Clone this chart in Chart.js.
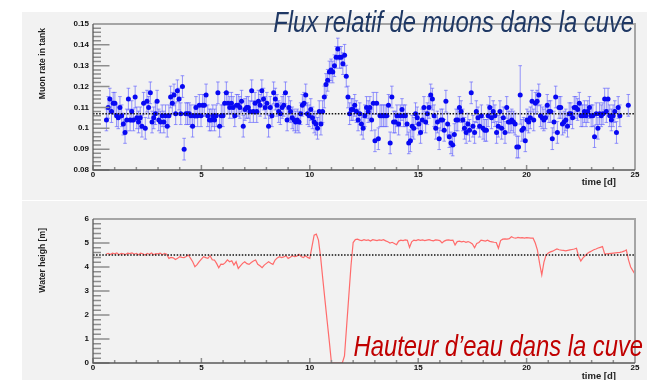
<!DOCTYPE html>
<html>
<head>
<meta charset="utf-8">
<script src="https://cdn.jsdelivr.net/npm/chart.js@4"></script>
<style>
  body { margin: 0; width: 647px; height: 380px; background: #fff; position: relative; overflow: hidden;
         font-family: 'Liberation Sans', Arial, sans-serif; }
  .pad { position: absolute; left: 22px; width: 625px; background: #f2f2f2; }
  .pad canvas { display: block; }
  #padTop { top: 12px; height: 188px; }
  #padBottom { top: 201px; height: 179px; }
  .ytitle { position: absolute; writing-mode: vertical-rl; transform: rotate(180deg); font-weight: bold;
            font-size: 8.6px; line-height: 9px; color: #222; white-space: nowrap; }
  .xtitle { position: absolute; font-weight: bold; font-size: 9.5px; line-height: 10px; color: #222; white-space: nowrap; }
  .caption { position: absolute; font-style: italic; font-size: 29px; line-height: 29px; white-space: nowrap;
             transform: scaleX(0.82); transform-origin: right center; }
</style>
</head>
<body>
<div class="pad" id="padTop"><canvas id="rateChart" width="625" height="188"></canvas></div>
<div class="pad" id="padBottom"><canvas id="waterChart" width="625" height="179"></canvas></div>
<div class="ytitle" style="left:37.5px; top:28px;">Muon rate in tank</div>
<div class="ytitle" style="left:37.5px; top:228px;">Water heigh [m]</div>
<div class="xtitle" style="right:31px; top:177px;">time [d]</div>
<div class="xtitle" style="right:31px; top:371px;">time [d]</div>
<div class="caption" style="right:13px; top:7.5px; color:#1f3864;">Flux relatif de muons dans la cuve</div>
<div class="caption" style="right:4px; top:331.5px; color:#c00000;">Hauteur d’eau dans la cuve</div>

<script>
// ---- time axis (days) ----
const timeTicks = [0, 5, 10, 15, 20, 25];
const timeMinorStep = 1;

// ---- muon rate, one value per time bin (null = empty bin) ----
const rateStart = 0.62;   // centre of first bin [d]
const rateBin = 0.0779;   // bin width [d]
const rateValues = [
    0.104, 0.110, 0.114, 0.108, 0.112, 0.112, 0.106, 0.105, 0.110, 0.106,
    0.102, 0.098, 0.104, 0.114, 0.104, 0.108, 0.104, 0.115, 0.105, 0.103,
    0.105, 0.101, 0.112, 0.100, 0.113, 0.110, 0.117, 0.103, 0.105, 0.107,
    0.113, 0.104, 0.103, 0.106, 0.103, 0.106, 0.101, 0.106, 0.115, 0.112,
    0.116, 0.107, 0.118, 0.114, 0.107, 0.120, 0.090, 0.107, 0.107, 0.107,
    0.106, 0.101, 0.106, 0.110, 0.106, 0.111, 0.106, 0.111, 0.111, 0.116,
    0.106, 0.104, 0.104, 0.106, 0.104, 0.106, 0.117, 0.101, 0.106, 0.106,
    0.112, 0.117, 0.112, 0.110,
    0.112, 0.110, 0.106, 0.111, 0.111, 0.110, 0.113, 0.101, 0.109, 0.110,
    0.110, 0.108, 0.118, 0.108, 0.112, 0.108, 0.113, 0.111, 0.118, 0.114,
    0.110, 0.112, 0.101, 0.110, 0.106, 0.117, 0.114, 0.111, 0.108, 0.107,
    0.110, 0.111, 0.117, 0.104, 0.110, 0.108, 0.105, 0.104, 0.103, 0.104,
    0.103, 0.107, 0.111, 0.112, 0.116, 0.107, 0.106, 0.109, 0.105, 0.103,
    0.102, 0.100, 0.108, 0.102, 0.108, 0.115, 0.121, 0.123, 0.127, 0.128,
    0.127, 0.130, 0.134, 0.138, 0.134, 0.134, 0.131, 0.135, 0.125, 0.115,
    0.107, 0.109, 0.109, 0.111, 0.108, 0.104, 0.107, 0.102, 0.100, 0.106,
    0.110, 0.108,
    0.110, 0.104, 0.112, 0.094, 0.112, 0.095, 0.106, 0.106, 0.106, 0.106,
    0.106, 0.111, 0.093, 0.115, 0.103, 0.103, 0.106, 0.102, 0.106, 0.109,
    0.106, 0.106, 0.102, 0.093, 0.094, 0.101, 0.100, 0.107, 0.105, 0.102,
    0.098, 0.104, 0.110, 0.103, 0.107, 0.110, 0.116, 0.114, 0.106, 0.100,
    0.103, 0.095, 0.104, 0.104, 0.099, 0.113, 0.102, 0.096, 0.093, 0.092,
    0.097, 0.104, 0.104, 0.110, 0.108, 0.104, 0.100, 0.098, 0.102, 0.099,
    0.117, 0.101, 0.098, 0.108, 0.105, 0.101, 0.106, 0.100, 0.099, 0.099,
    0.106, 0.110, 0.105, 0.108, 0.106, 0.098, 0.101, 0.108,
    0.100, 0.105, 0.098, 0.110, 0.103, 0.103, 0.104, 0.103, 0.102, 0.091,
    0.091, 0.116, 0.099, 0.100, 0.094, 0.104, 0.103, 0.105, 0.113, 0.104,
    0.112, 0.113, 0.116, 0.106, 0.105, 0.104, 0.105, 0.111, 0.108, 0.108,
    0.095, 0.103, 0.115, 0.098, 0.110, 0.110, 0.102, 0.103, 0.104, 0.101,
    0.107, 0.107, 0.105, 0.110, 0.110, 0.109, 0.112, 0.106, 0.106, 0.108,
    0.106, 0.108, 0.110, 0.106, 0.106, 0.096, 0.107, 0.100, 0.107, 0.106,
    0.107, 0.114, 0.108, 0.114, 0.106, 0.104, 0.106, 0.108, 0.098, 0.110,
    0.106, null, null, null, null, 0.111
];
const rateError = 0.0052;            // usual statistical error
const rateErrorWide = { 245: 0.014 }; // bins with poor statistics
const rateMean = 0.107;
const rateTicks = [0.08, 0.09, 0.10, 0.11, 0.12, 0.13, 0.14, 0.15];
const rateMinorStep = 0.002;

// ---- water level, sampled every 0.1 d ----
const waterStart = 0.6;
const waterStep = 0.1;
const waterHeight = [
    4.53, 4.57, 4.52, 4.58,
    4.55, 4.59, 4.51, 4.57, 4.55, 4.52, 4.58, 4.56, 4.59, 4.53,
    4.57, 4.51, 4.58, 4.55, 4.50, 4.57, 4.53, 4.58, 4.51, 4.56,
    4.55, 4.58, 4.51, 4.57, 4.53, 4.36, 4.40, 4.38, 4.31, 4.36,
    4.43, 4.40, 4.39, 4.44, 4.50, 4.36, 4.22, 4.01, 4.10, 4.22,
    4.33, 4.43, 4.39, 4.36, 4.47, 4.30, 4.29, 4.15, 3.97, 4.12,
    4.11, 4.18, 4.30, 4.22, 4.26, 4.08, 4.22, 3.94, 4.05, 4.15,
    4.22, 4.14, 4.11, 4.19, 4.25, 4.29, 4.11, 4.05, 3.97, 4.08,
    4.15, 4.22, 4.16, 4.11, 4.29, 4.38, 4.43, 4.39, 4.42, 4.47,
    4.36, 4.41, 4.47, 4.43, 4.45, 4.53, 4.44, 4.39, 4.47, 4.40,
    4.36, 4.85, 5.33, 5.37, 5.12, 4.40, 3.50, 2.62, 1.75, 0.90,
    0.00, 0.00, 0.00, 0.00, 0.00, 0.00, 0.30, 1.55, 2.80, 4.05,
    5.02, 5.14, 5.16, 5.12, 5.10, 5.14, 5.11, 5.13, 5.08, 5.14,
    5.12, 5.10, 5.13, 5.11, 5.14, 5.09, 5.05, 5.00, 5.03, 4.98,
    4.93, 5.08, 5.12, 5.10, 5.13, 5.11, 4.82, 5.05, 5.12, 5.10,
    5.14, 5.11, 5.13, 5.10, 5.12, 5.14, 5.11, 5.09, 5.13, 5.12,
    5.10, 5.00, 5.08, 5.12, 5.13, 5.11, 5.12, 4.92, 5.06, 5.08,
    5.05, 5.07, 5.03, 5.06, 5.02, 4.96, 4.80, 4.98, 5.02, 5.12,
    5.10, 5.08, 5.12, 5.07, 5.05, 5.03, 5.02, 4.78, 5.10, 5.16,
    5.17, 5.16, 5.18, 5.26, 5.22, 5.20, 5.23, 5.21, 5.22, 5.20,
    5.22, 5.21, 5.20, 5.20, 5.00, 4.70, 4.15, 3.67, 4.20, 4.50,
    4.58, 4.63, 4.66, 4.71, 4.75, 4.72, 4.70, 4.69, 4.67, 4.69,
    4.71, 4.73, 4.75, 4.78, 4.45, 4.25, 4.38, 4.47, 4.56, 4.62,
    4.67, 4.72, 4.75, 4.79, 4.82, 4.85, 4.55, 4.55, 4.56, 4.57,
    4.58, 4.59, 4.60, 4.61, 4.63, 4.66, 4.71, 4.30, 4.00, 3.85,
    3.70
];
const waterMean = 4.5;
const heightTicks = [0, 1, 2, 3, 4, 5, 6];
const heightMinorStep = 0.2;

// ----- helpers -----
const tickFont = { family: 'Liberation Sans', size: 8, weight: 'bold' };

// error bars under the markers
const errorBars = {
    id: 'errorBars',
    beforeDatasetsDraw(chart) {
        const ds = chart.data.datasets[0];
        if (!ds.errorBars) return;
        const { ctx, scales: { y } } = chart;
        const meta = chart.getDatasetMeta(0);
        ctx.save();
        ctx.strokeStyle = 'rgba(95, 95, 255, 0.65)';
        ctx.lineWidth = 1;
        ctx.beginPath();
        meta.data.forEach((pt, j) => {
            const d = ds.data[j];
            const top = y.getPixelForValue(d.y + d.err);
            const bot = y.getPixelForValue(d.y - d.err);
            ctx.moveTo(pt.x, top); ctx.lineTo(pt.x, bot);
            ctx.moveTo(pt.x - 1.8, top); ctx.lineTo(pt.x + 1.8, top);
            ctx.moveTo(pt.x - 1.8, bot); ctx.lineTo(pt.x + 1.8, bot);
        });
        ctx.stroke();
        ctx.restore();
    }
};

// frame, inward ticks and dotted mean level
const padFrame = {
    id: 'padFrame',
    afterDatasetsDraw(chart, args, opts) {
        const { ctx, chartArea: a, scales: { x, y } } = chart;
        ctx.save();

        ctx.strokeStyle = '#111';
        ctx.lineWidth = 1.5;
        ctx.setLineDash([1.5, 1.6]);
        const ym = y.getPixelForValue(opts.mean);
        ctx.beginPath();
        ctx.moveTo(a.left, ym);
        ctx.lineTo(a.right, ym);
        ctx.stroke();
        ctx.setLineDash([]);

        ctx.strokeStyle = '#8d8d8d';
        ctx.lineWidth = 1.5;
        ctx.beginPath();
        const ny = Math.round((y.max - y.min) / opts.yMinor);
        const yPer = Math.round((opts.yMajor) / opts.yMinor);
        for (let i = 0; i <= ny; i++) {
            const py = y.getPixelForValue(y.min + i * opts.yMinor);
            const len = i % yPer === 0 ? 16.5 : 8;
            ctx.moveTo(a.left, py);
            ctx.lineTo(a.left + len, py);
        }
        const nx = Math.round((x.max - x.min) / timeMinorStep);
        for (let i = 0; i <= nx; i++) {
            const px = x.getPixelForValue(x.min + i * timeMinorStep);
            const len = i % 5 === 0 ? 5 : 3;
            ctx.moveTo(px, a.bottom);
            ctx.lineTo(px, a.bottom - len);
        }
        ctx.stroke();

        ctx.strokeStyle = '#a5a5a5';
        ctx.lineWidth = 2;
        ctx.beginPath();
        ctx.moveTo(a.left, a.top);
        ctx.lineTo(a.right, a.top);
        ctx.lineTo(a.right, a.bottom);
        ctx.stroke();

        ctx.strokeStyle = '#5a5a5a';
        ctx.lineWidth = 1.3;
        ctx.beginPath();
        ctx.moveTo(a.left, a.top);
        ctx.lineTo(a.left, a.bottom);
        ctx.lineTo(a.right, a.bottom);
        ctx.stroke();
        ctx.restore();
    }
};

function timeScale(height) {
    return {
        type: 'linear', min: 0, max: 25,
        afterBuildTicks: s => { s.ticks = timeTicks.map(v => ({ value: v })); },
        afterFit: s => { s.height = height; },
        ticks: { padding: 0, color: '#111', font: tickFont, maxRotation: 0, autoSkip: false },
        grid: { display: false, drawTicks: false },
        border: { display: false }
    };
}

function valueScale(min, max, ticks, fmt) {
    return {
        type: 'linear', min: min, max: max,
        afterBuildTicks: s => { s.ticks = ticks.map(v => ({ value: v })); },
        afterFit: s => { s.width = 71; },
        ticks: { padding: 4, color: '#111', font: tickFont, autoSkip: false, callback: fmt },
        grid: { display: false, drawTicks: false },
        border: { display: false }
    };
}

// ----- muon rate -----
const ratePoints = [];
rateValues.forEach((v, i) => {
    if (v === null) return;
    ratePoints.push({ x: rateStart + i * rateBin, y: v, err: rateErrorWide[i] || rateError });
});

new Chart(document.getElementById('rateChart'), {
    type: 'scatter',
    data: {
        datasets: [{
            data: ratePoints,
            errorBars: true,
            pointRadius: 2.5,
            pointBorderWidth: 0,
            pointBackgroundColor: '#0808f2',
            showLine: false
        }]
    },
    options: {
        responsive: false,
        animation: false,
        devicePixelRatio: 1,
        layout: { padding: { left: 0, right: 12, top: 12, bottom: 0 } },
        plugins: {
            legend: { display: false },
            tooltip: { enabled: false },
            padFrame: { mean: rateMean, yMinor: rateMinorStep, yMajor: 0.01 }
        },
        scales: {
            x: timeScale(30),
            y: valueScale(0.08, 0.15, rateTicks, v => String(+v.toFixed(2)))
        }
    },
    plugins: [errorBars, padFrame]
});

// ----- water height -----
const waterPoints = waterHeight.map((h, i) => ({ x: waterStart + i * waterStep, y: h }));

new Chart(document.getElementById('waterChart'), {
    type: 'line',
    data: {
        datasets: [{
            data: waterPoints,
            borderColor: '#ff6b6b',
            borderWidth: 1.2,
            pointRadius: 0,
            tension: 0,
            fill: false
        }]
    },
    options: {
        responsive: false,
        animation: false,
        devicePixelRatio: 1,
        layout: { padding: { left: 0, right: 12, top: 18, bottom: 0 } },
        plugins: {
            legend: { display: false },
            tooltip: { enabled: false },
            padFrame: { mean: waterMean, yMinor: heightMinorStep, yMajor: 1 }
        },
        scales: {
            x: timeScale(17),
            y: valueScale(0, 6, heightTicks, v => String(v))
        }
    },
    plugins: [padFrame]
});
</script>
</body>
</html>
